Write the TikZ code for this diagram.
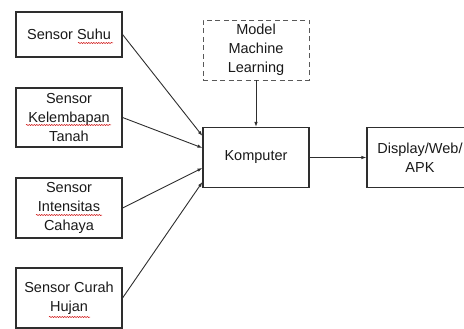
\documentclass[tikz,border=0pt]{standalone}
\usepackage{fontspec}
\setmainfont{Liberation Sans}
\usetikzlibrary{arrows.meta,decorations.pathmorphing}
\definecolor{linegray}{HTML}{2E2E2E}
\tikzset{
  box/.style={draw=linegray, line width=1.1pt, minimum width=106pt, align=center,
    inner sep=0pt, font=\fontsize{14.5}{19}\selectfont, text=black!90},
  dbox/.style={box, draw=black!65, line width=0.9pt, dashed, dash pattern=on 5pt off 3.5pt},
  arr/.style={draw=linegray, line width=0.9pt, -{Latex[length=5pt,width=3.5pt]}},
  squig/.style={draw=red!80!black, line width=0.5pt, decorate,
    decoration={snake, amplitude=0.6pt, segment length=2.5pt}}
}
\begin{document}
\begin{tikzpicture}[x=1pt,y=-1pt]
\useasboundingbox (0,0) rectangle (464,329);
\clip (0,0) rectangle (464,329);
\node[box, minimum height=45pt] (suhu) at (69,34.5) {Sensor Suhu};
\node[box, minimum height=59pt] (tanah) at (69,117.5) {Sensor\\Kelembapan\\Tanah};
\node[box, minimum height=60pt] (cahaya) at (69,208) {Sensor\\Intensitas\\Cahaya};
\node[box, minimum height=60pt] (hujan) at (69,298) {Sensor Curah\\Hujan};
\node[dbox, minimum height=60pt] (ml) at (256,50) {Model\\Machine\\Learning};
\node[box, minimum height=60pt] (komp) at (256,157.5) {Komputer};
\node[box, minimum height=60pt] (disp) at (420,157.5) {Display/Web/\\APK};
\coordinate (k1) at ([yshift=-9pt]komp.north west);
\coordinate (k2) at ([yshift=-21pt]komp.north west);
\coordinate (k3) at ([yshift=-41pt]komp.north west);
\coordinate (k4) at ([yshift=-55pt]komp.north west);
\draw[arr] (suhu.east) -- (k1);
\draw[arr] (tanah.east) -- (k2);
\draw[arr] (cahaya.east) -- (k3);
\draw[arr] (hujan.east) -- (k4);
\draw[arr] (ml.south) -- (komp.north);
\draw[arr] (komp.east) -- (disp.west);
\draw[squig] (78,43) -- (113,43);
\draw[squig] (26,125) -- (111,125);
\draw[squig] (36,215) -- (102,215);
\draw[squig] (49,317) -- (90,317);
\end{tikzpicture}
\end{document}
